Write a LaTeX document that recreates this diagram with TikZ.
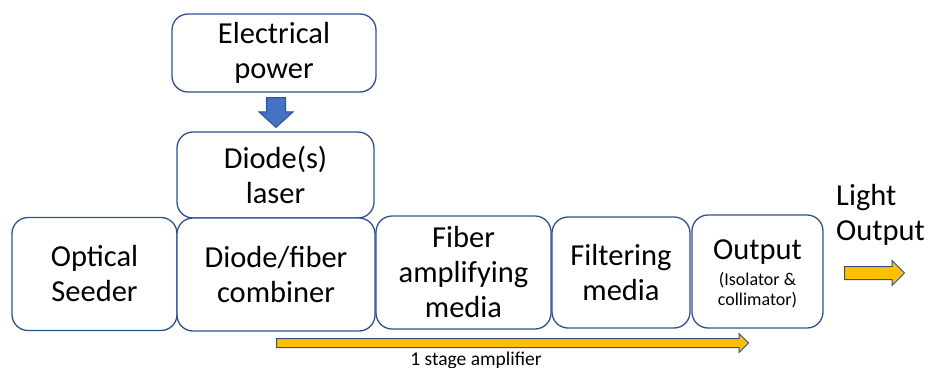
\documentclass[tikz,border=0pt]{standalone}
\usepackage{fontspec}
\setmainfont{Carlito}
\usetikzlibrary{shapes.arrows}
\definecolor{edge}{HTML}{2F528F}
\definecolor{bluefill}{HTML}{4472C4}
\definecolor{gold}{HTML}{FFC000}
\newcommand{\smallsz}{\fontsize{18}{21}\selectfont}
\begin{document}
\begin{tikzpicture}[x=1pt,y=-1pt,
  box/.style={draw=edge, line width=1.3pt, fill=white, rounded corners=16pt,
    align=center, font=\fontsize{30.5}{35}\selectfont, inner sep=0pt},
  blockarrow/.style={single arrow, draw=edge, line width=1pt, inner xsep=0pt,
    single arrow head indent=0pt, anchor=tail},
  bigtext/.style={font=\fontsize{30.5}{35}\selectfont, inner sep=0pt},
  smalltext/.style={font=\smallsz, inner sep=0pt}]
\useasboundingbox (0,0) rectangle (928,367);

\node[box, minimum width=204pt, minimum height=78pt] (elec) at (274,53) {Electrical\\power};
\node[box, minimum width=197pt, minimum height=86pt] (laser) at (275.5,175) {Diode(s)\\laser};
\node[box, minimum width=165pt, minimum height=113pt] (seed) at (94.5,274) {Optical\\Seeder};
\node[box, minimum width=198pt, minimum height=113pt] (comb) at (276,274.5) {Diode/fiber\\combiner};
\node[box, minimum width=175pt, minimum height=113pt] (fiber) at (463.5,272.5) {Fiber\\amplifying\\media};
\node[box, minimum width=138pt, minimum height=111pt] (filt) at (621,272.5) {Filtering\\media};
\node[box, minimum width=131pt, minimum height=113pt] (out) at (757.5,271.5) {};
\node[bigtext, anchor=base] (outtitle) at (757.5,259) {Output};
\node[smalltext, anchor=base, align=center] (outsub) at (757.5,305) {(Isolator \&\\[-1pt]collimator)};

% blue block arrow from power to diode laser
\node[blockarrow, fill=bluefill, rotate=-90, minimum height=30pt, inner ysep=9pt,
  single arrow head extend=7.5pt, single arrow tip angle=95] (pwr) at (276,97) {};

% light output
\node[bigtext, align=left, anchor=north west] (light) at (836,184) {Light\\Output};
\node[blockarrow, fill=gold, minimum height=60pt, inner ysep=6pt,
  single arrow head extend=6pt, single arrow tip angle=90] (lout) at (844,273) {};

% stage arrow
\node[blockarrow, fill=gold, minimum height=472pt, inner ysep=4pt,
  single arrow head extend=5pt, single arrow tip angle=90] (stage) at (276,343) {};
\node[font=\fontsize{19.5}{22}\selectfont, inner sep=0pt, anchor=base] (stagelbl) at (476,365.5) {1 stage amplifier};
\end{tikzpicture}
\end{document}
